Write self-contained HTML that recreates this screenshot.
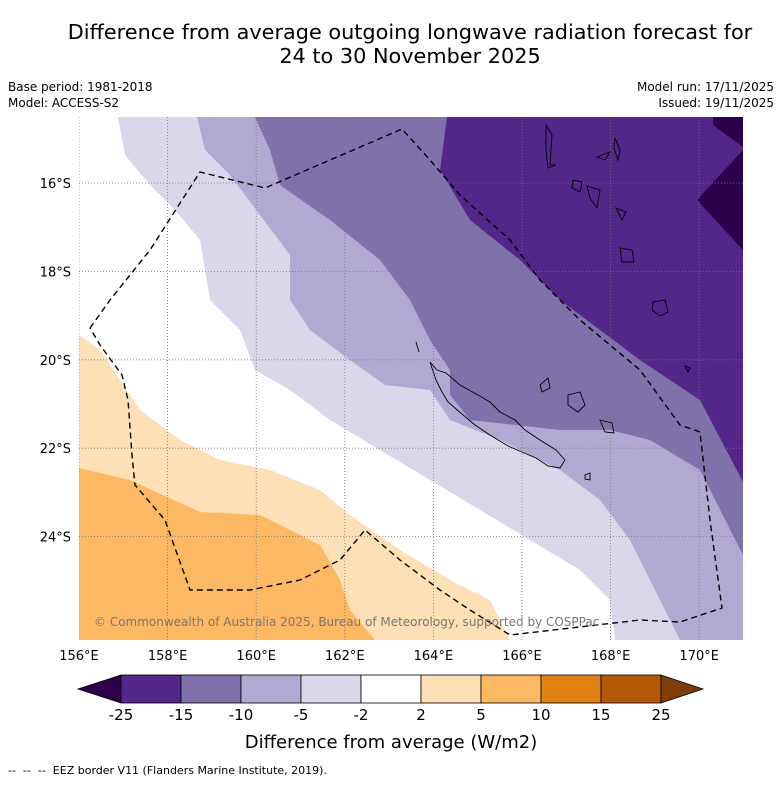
<!DOCTYPE html>
<html><head><meta charset="utf-8"><style>
body{margin:0;background:#fff;font-family:"Liberation Sans","DejaVu Sans",sans-serif;}
svg text{font-family:"DejaVu Sans","Liberation Sans",sans-serif;}
</style></head><body>
<svg id="c" width="781" height="781" viewBox="0 0 781 781" xmlns="http://www.w3.org/2000/svg">
<text x="410" y="39" font-size="20.8" text-anchor="middle">Difference from average outgoing longwave radiation forecast for</text>
<text x="410" y="63" font-size="20.8" text-anchor="middle">24 to 30 November 2025</text>
<text x="8" y="91" font-size="12">Base period: 1981-2018</text>
<text x="8" y="107" font-size="12">Model: ACCESS-S2</text>
<text x="774" y="91" font-size="12" text-anchor="end">Model run: 17/11/2025</text>
<text x="774" y="107" font-size="12" text-anchor="end">Issued: 19/11/2025</text>
<defs><clipPath id="mc"><rect x="79" y="117" width="664" height="523"/></clipPath></defs>
<g id="map" clip-path="url(#mc)">
<rect x="79" y="117" width="664" height="523" fill="#fff"/>
<polygon fill="#d9d8ea" points="118,117 125,155 150,185 175,210 200,240 205,270 210,300 240,330 255,370 290,390 330,420 380,450 430,480 480,510 530,540 580,570 610,600 615,640 743,640 743,117"/>
<polygon fill="#b1a9d1" points="197,117 205,150 230,175 260,215 290,255 290,300 310,330 350,360 385,385 430,390 450,420 500,440 560,470 600,500 630,540 650,580 680,640 743,640 743,117"/>
<polygon fill="#7f72ab" points="255,117 270,150 280,185 330,220 380,260 410,300 430,340 450,370 450,395 470,420 560,430 610,430 650,440 700,470 743,555 743,117"/>
<polygon fill="#53268a" points="447,117 440,170 470,220 520,260 560,300 600,330 640,360 700,400 743,482 743,117"/>
<polygon fill="#2d004b" points="713,117 743,117 743,147 713,125"/>
<polygon fill="#2d004b" points="743,150 697,200 743,250"/>
<polygon fill="#fde0b6" points="79,335 100,350 120,380 140,410 180,440 220,460 270,470 320,490 350,515 400,550 450,580 490,600 510,640 79,640"/>
<polygon fill="#fdb863" points="79,468 130,480 200,512 260,515 320,545 340,580 350,610 375,640 79,640"/>
<g id="grid" stroke="#777" stroke-width="0.8" stroke-dasharray="1,2"></g>
<g fill="none" stroke="#000" stroke-width="0.9">
<path d="M430,362 L437,370 L446,373 L460,385 L478,395 L490,402 L500,412 L515,420 L525,430 L540,440 L556,450 L565,460 L560,468 L548,466 L536,458 L522,452 L508,446 L490,435 L475,425 L462,414 L448,402 L442,392 L436,380 Z"/>
<path d="M540,385 L548,378 L550,388 L542,392Z M568,395 L580,392 L585,405 L578,412 L568,405Z M600,420 L612,423 L614,433 L605,432Z M585,475 L590,473 L590,480 L585,479Z"/>
<path d="M546,125 L552,135 L550,165 L556,165 L548,168 L546,150Z M597,157 L610,152 L605,160Z M615,138 L620,150 L618,160 L614,148Z M573,180 L582,182 L580,192 L572,188Z M587,186 L600,190 L597,208 L590,198Z M616,208 L626,212 L622,220Z M620,248 L632,250 L634,262 L622,262Z M653,302 L665,300 L668,312 L660,316 L652,310Z M685,366 L690,368 L688,372Z M416,342 L419,352"/>
</g>
<polyline fill="none" stroke="#000" stroke-width="1.4" stroke-dasharray="6,4" points="90,328 110,300 150,250 200,172 265,188 402,129 430,160 460,195 510,240 540,280 580,320 640,370 680,425 700,432 710,520 722,608 680,622 640,620 510,635 470,610 440,590 400,560 365,530 340,560 300,580 250,590 190,590 165,520 135,485 132,455 128,400 122,375 100,345 90,328"/>
<text x="94" y="626" font-size="12" fill="#777">© Commonwealth of Australia 2025, Bureau of Meteorology, supported by COSPPac</text>
</g>
<g id="axes"></g>
<g id="cbar"></g>
<text x="391" y="748" font-size="18" text-anchor="middle">Difference from average (W/m2)</text>
<text x="8" y="774" font-size="11" xml:space="preserve">--  --  --  EEZ border V11 (Flanders Marine Institute, 2019).</text>
</svg>
<script>
const lonTicks=[156,158,160,162,164,166,168,170];
const latTicks=[16,18,20,22,24];
const cbarLevels=["-25","-15","-10","-5","-2","2","5","10","15","25"];
const cbarColors=["#53268a","#7f72ab","#b1a9d1","#d9d8ea","#ffffff","#fde0b6","#fdb863","#e08214","#b35806"];
const ns="http://www.w3.org/2000/svg";
function xLon(l){return 79+(l-156)*44.3;}
function yLat(l){return 183+(l-16)*44.2;}
function mk(t,a,p){const e=document.createElementNS(ns,t);for(const k in a)e.setAttribute(k,a[k]);p.appendChild(e);return e;}
const grid=document.getElementById('grid'),axes=document.getElementById('axes'),cb=document.getElementById('cbar');
lonTicks.forEach(l=>{const x=xLon(l);
const g=mk('line',{x1:x,x2:x,y1:117,y2:640},grid);


const t=mk('text',{x:x,y:660,'font-size':13,'text-anchor':'middle'},axes);t.textContent=l+'°E';

});
latTicks.forEach(l=>{const y=yLat(l);
const g=mk('line',{x1:79,x2:743,y1:y,y2:y},grid);


const t=mk('text',{x:71,y:y+5,'font-size':13,'text-anchor':'end'},axes);t.textContent=l+'°S';

});
const x0=121,w=60,y0=675,h=28;
const lt=mk('polygon',{points:`${x0},${y0} ${x0},${y0+h} 78,${y0+h/2}`,fill:'#2d004b',stroke:'#000','stroke-width':0.8},cb);


cbarColors.forEach((c,i)=>{const r=mk('rect',{x:x0+i*w,y:y0,width:w,height:h,fill:c,stroke:'#000','stroke-width':0.8},cb);

});
const xe=x0+cbarColors.length*w;
const rt=mk('polygon',{points:`${xe},${y0} ${xe},${y0+h} 703,${y0+h/2}`,fill:'#7f3b08',stroke:'#000','stroke-width':0.8},cb);


cbarLevels.forEach((v,i)=>{const t=mk('text',{x:x0+i*w,y:720,'font-size':15,'text-anchor':'middle'},cb);t.textContent=v;

});
</script>
</body></html>
